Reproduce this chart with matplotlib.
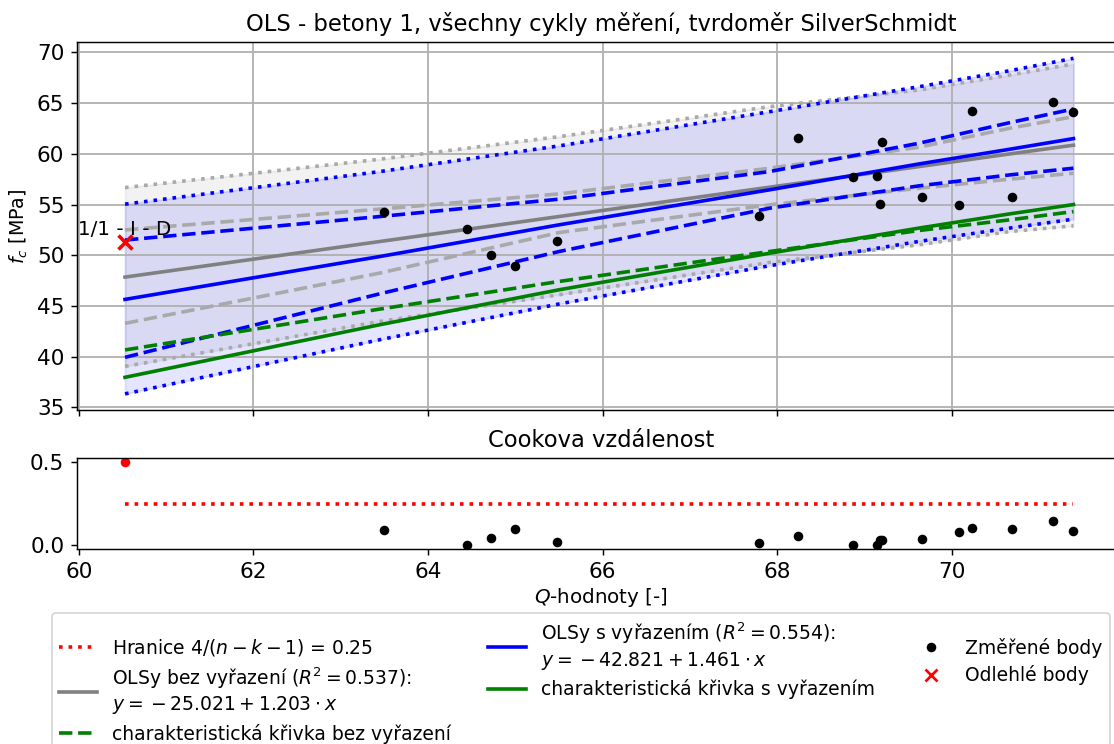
import matplotlib
matplotlib.use("Agg")
import matplotlib.pyplot as plt
from matplotlib.lines import Line2D

# measured points kept in the fit
q_meas = [63.49, 64.45, 64.72, 65.0, 65.48, 67.79, 68.24, 68.86, 69.14, 69.17,
          69.2, 69.66, 70.08, 70.23, 70.69, 71.16, 71.39]
fc_meas = [54.3, 52.6, 50.05, 48.9, 51.45, 53.9, 61.6, 57.7, 57.85, 55.1,
           61.2, 55.7, 55.0, 64.2, 55.75, 65.15, 64.1]
cook_meas = [0.089, 0.0, 0.046, 0.095, 0.022, 0.016, 0.054, 0.0, 0.0, 0.03,
             0.032, 0.035, 0.08, 0.105, 0.1, 0.148, 0.083]

# outlier
q_out = [60.53]
fc_out = [51.3]
cook_out = [0.5]
outlier_label = "1/1 - I - D"
cook_limit = 0.25

# regression curves
x_curve = [60.53, 63.45, 65.5, 67.91, 69.62, 70.66, 71.39]
ols_all = [47.85, 51.36, 53.82, 56.71, 58.74, 59.99, 60.85]
ols_ex = [45.65, 49.88, 53.0, 56.45, 59.0, 60.45, 61.5]
conf_all_hi = [52.5, 54.55, 56.05, 58.58, 60.65, 62.52, 63.66]
conf_all_lo = [43.29, 48.25, 52.24, 54.97, 56.61, 57.5, 58.09]
conf_ex_hi = [51.5, 53.82, 55.53, 58.25, 61.04, 63.07, 64.42]
conf_ex_lo = [39.94, 46.21, 50.37, 54.64, 56.84, 57.92, 58.58]
pred_all_hi = [56.67, 59.47, 61.69, 64.65, 66.29, 67.77, 68.85]
pred_all_lo = [39.05, 43.48, 46.11, 49.29, 51.03, 52.34, 52.9]
pred_ex_hi = [55.04, 58.25, 60.78, 64.15, 66.61, 68.19, 69.41]
pred_ex_lo = [36.34, 41.68, 45.2, 48.97, 51.36, 52.68, 53.56]
char_all = [40.67, 44.7, 47.42, 50.37, 52.44, 53.49, 54.31]
char_ex = [37.97, 43.16, 46.6, 50.2, 52.68, 54.08, 55.0]

DPI = 130
fig = plt.figure(figsize=(1114 / DPI, 744 / DPI), dpi=DPI)
W, H = 1114, 744
ax = fig.add_axes([77 / W, 1 - 410 / H, (1125 - 77) / W, (410 - 41.7) / H])
ax2 = fig.add_axes([77 / W, 1 - 549.3 / H, (1125 - 77) / W, (549.3 - 458.3) / H],
                   sharex=ax)

# --- main plot ---
ax.fill_between(x_curve, pred_all_lo, pred_all_hi, color="gray", alpha=0.1)
ax.fill_between(x_curve, pred_ex_lo, pred_ex_hi, color="blue", alpha=0.1)
ax.plot(x_curve, pred_all_hi, ":", color="darkgray", lw=2)
ax.plot(x_curve, pred_all_lo, ":", color="darkgray", lw=2)
ax.plot(x_curve, conf_all_hi, "--", color="darkgray", lw=2)
ax.plot(x_curve, conf_all_lo, "--", color="darkgray", lw=2)
ax.plot(x_curve, ols_all, "-", color="gray", lw=2)
ax.plot(x_curve, pred_ex_hi, ":", color="blue", lw=2)
ax.plot(x_curve, pred_ex_lo, ":", color="blue", lw=2)
ax.plot(x_curve, conf_ex_hi, "--", color="blue", lw=2)
ax.plot(x_curve, conf_ex_lo, "--", color="blue", lw=2)
ax.plot(x_curve, ols_ex, "-", color="blue", lw=2)
ax.plot(x_curve, char_all, "--", color="green", lw=2)
ax.plot(x_curve, char_ex, "-", color="green", lw=2)
ax.plot(q_meas, fc_meas, "o", color="black", ms=4.3, zorder=5)
ax.scatter(q_out, fc_out, marker="x", color="red", s=60, linewidths=2, zorder=6)
ax.text(q_out[0], fc_out[0] + 0.35, outlier_label, ha="center", va="bottom",
        fontsize=11)

ax.set_xlim(59.98, 71.98)
ax.set_ylim(34.75, 71.05)
ax.set_yticks([35, 40, 45, 50, 55, 60, 65, 70])
ax.grid(True, color="#b0b0b0", lw=1.0)
ax.tick_params(labelbottom=False, labelsize=12)
ax.set_ylabel("$f_c$ [MPa]", fontsize=10.5)
ax.set_title("OLS - betony 1, všechny cykly měření, tvrdoměr SilverSchmidt",
             fontsize=12.5)

# --- Cook's distance ---
ax2.plot(q_meas, cook_meas, "o", color="black", ms=4.3)
ax2.plot(q_out, cook_out, "o", color="red", ms=4.3)
ax2.hlines(cook_limit, min(q_out + q_meas), max(q_out + q_meas),
           colors="red", linestyles=":", lw=2)
ax2.set_ylim(-0.025, 0.525)
ax2.set_yticks([0.0, 0.5])
ax2.set_xticks([60, 62, 64, 66, 68, 70])
ax2.tick_params(labelsize=12)
ax2.set_title("Cookova vzdálenost", fontsize=12.5)
ax2.set_xlabel("$Q$-hodnoty [-]", fontsize=11, labelpad=2)

handles = [
    Line2D([], [], color="red", ls=":", lw=2),
    Line2D([], [], color="gray", ls="-", lw=2),
    Line2D([], [], color="green", ls="--", lw=2),
    Line2D([], [], color="blue", ls="-", lw=2),
    Line2D([], [], color="green", ls="-", lw=2),
    Line2D([], [], color="black", ls="", marker="o", ms=4.3),
    Line2D([], [], color="red", ls="", marker="x", ms=7, mew=1.5),
]
labels = [
    "Hranice $4/(n-k-1)$ = 0.25",
    "OLSy bez vyřazení ($R^2 = 0.537$):\n$y = {} - 25.021 + 1.203 \\cdot x$",
    "charakteristická křivka bez vyřazení",
    "OLSy s vyřazením ($R^2 = 0.554$):\n$y = {} - 42.821 + 1.461 \\cdot x$",
    "charakteristická křivka s vyřazením",
    "Změřené body",
    "Odlehlé body",
]
fig.legend(handles, labels, loc="upper center", ncol=3, fontsize=10.4,
           labelspacing=0.4, bbox_to_anchor=(581 / W, 1 - 604 / H))

fig.savefig("out.png", dpi=DPI)
